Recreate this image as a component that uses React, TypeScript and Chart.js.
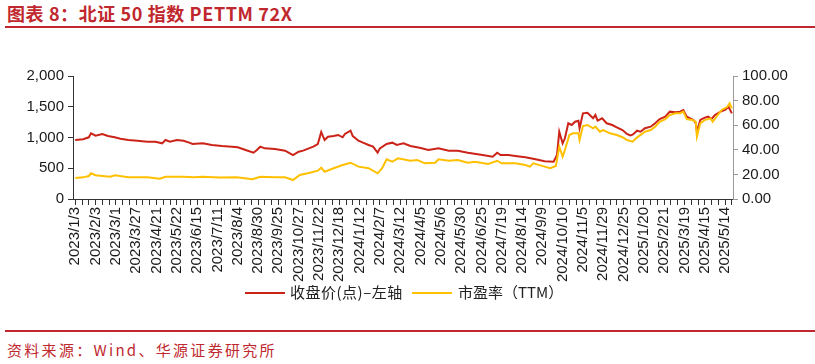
import React, { useEffect, useRef } from 'react';
import { Chart, registerables } from 'chart.js';

Chart.register(...registerables);

// X-axis date labels (one every 18 trading days)
const X_LABELS = [
  '2023/1/3', '2023/2/3', '2023/3/1', '2023/3/27', '2023/4/21', '2023/5/22', '2023/6/15',
  '2023/7/11', '2023/8/4', '2023/8/30', '2023/9/25', '2023/10/27', '2023/11/22', '2023/12/18',
  '2024/1/12', '2024/2/7', '2024/3/12', '2024/4/5', '2024/5/6', '2024/5/30', '2024/6/25',
  '2024/7/19', '2024/8/14', '2024/9/9', '2024/10/10', '2024/11/5', '2024/11/29', '2024/12/25',
  '2025/1/20', '2025/2/21', '2025/3/19', '2025/4/15', '2025/5/14',
];
const LABEL_STEP = 18;
const MINOR_STEP = 6;
const X_MIN = -2;
const X_MAX = 583;

// 收盘价 (trading-day index, value)
const CLOSE_X = [
  0, 7, 12, 14, 18, 24, 29, 35, 40, 47, 55, 64, 71, 77, 80, 84, 90, 96, 101, 104, 113, 121, 130,
  139, 144, 151, 158, 161, 164, 168, 177, 186, 193, 198, 202, 211, 215, 218, 221, 224, 229, 233,
  237, 239, 244, 246, 251, 255, 260, 264, 268, 270, 276, 281, 285, 291, 297, 303, 307, 313, 322,
  331, 339, 348, 361, 370, 374, 377, 384, 390, 399, 408, 416, 424, 427, 429, 432, 434, 437, 440,
  443, 446, 447, 450, 454, 456, 459, 461, 463, 467, 471, 476, 480, 485, 489, 492, 494, 498, 501,
  505, 510, 514, 518, 523, 527, 532, 536, 539, 542, 545, 548, 550, 551, 554, 558, 561, 564, 567,
  572, 576, 579, 582,
];
const CLOSE_Y = [
  959, 971, 1003, 1068, 1030, 1057, 1024, 1003, 981, 959, 948, 932, 932, 905, 959, 932, 959, 948,
  916, 894, 905, 878, 862, 851, 840, 797, 753, 797, 851, 824, 813, 786, 715, 769, 786, 851, 894,
  1090, 959, 1013, 1024, 1041, 1003, 1057, 1111, 1024, 948, 916, 878, 851, 753, 824, 894, 916, 878,
  905, 862, 840, 824, 797, 824, 786, 786, 753, 715, 688, 753, 715, 715, 699, 678, 645, 615, 607,
  715, 1094, 905, 987, 1231, 1203, 1257, 1273, 1150, 1393, 1403, 1366, 1312, 1366, 1273, 1312,
  1231, 1203, 1166, 1122, 1057, 1035, 1046, 1111, 1094, 1150, 1176, 1231, 1301, 1339, 1420, 1410,
  1420, 1447, 1339, 1312, 1285, 1231, 1094, 1285, 1322, 1339, 1301, 1366, 1420, 1447, 1501, 1393,
];

// 市盈率（TTM） (trading-day index, value)
const PE_X = [
  0, 7, 12, 14, 18, 24, 31, 35, 47, 64, 75, 80, 96, 105, 113, 128, 143, 157, 164, 177, 186, 193,
  199, 208, 215, 218, 221, 229, 237, 244, 251, 260, 268, 272, 276, 281, 286, 297, 303, 310, 319,
  322, 331, 339, 348, 354, 366, 374, 378, 390, 399, 403, 406, 416, 421, 426, 429, 432, 434, 438,
  441, 446, 447, 450, 454, 459, 461, 465, 468, 474, 480, 485, 489, 494, 497, 499, 505, 510, 514,
  518, 523, 527, 532, 536, 539, 542, 547, 550, 551, 554, 558, 563, 565, 569, 573, 578, 580, 582,
];
const PE_Y = [
  17.0, 17.6, 18.7, 20.9, 19.3, 18.7, 18.1, 19.3, 17.6, 17.6, 16.5, 18.1, 18.1, 17.6, 18.1, 17.4,
  17.6, 16.0, 18.1, 17.6, 17.6, 15.4, 19.5, 21.4, 23.0, 25.5, 22.2, 25.0, 27.6, 29.5, 26.3, 25.0,
  20.9, 25.0, 32.3, 30.3, 33.1, 31.1, 31.7, 29.0, 29.5, 32.3, 31.1, 31.7, 29.5, 30.3, 28.5, 31.1,
  29.0, 29.0, 27.6, 26.3, 29.0, 26.3, 25.0, 26.8, 42.5, 34.4, 39.8, 52.0, 53.4, 53.4, 48.0, 59.3,
  60.2, 57.5, 58.8, 54.7, 56.1, 53.4, 52.0, 50.2, 48.0, 46.6, 49.3, 50.7, 54.7, 56.1, 58.8, 62.8,
  65.0, 68.3, 69.7, 69.7, 71.0, 65.0, 64.2, 62.8, 50.7, 61.5, 64.2, 65.6, 62.8, 67.7, 72.4, 75.0,
  77.8, 73.7,
];

const LEFT_MIN = 0;
const LEFT_MAX = 2000;
const LEFT_STEP = 500;
const RIGHT_MIN = 0;
const RIGHT_MAX = 100;
const RIGHT_STEP = 20;

const SERIES_NAMES = ['收盘价(点)–左轴', '市盈率（TTM）'];
const TITLE = '图表 8：北证 50 指数 PETTM 72X';
const SOURCE = '资料来源：Wind、华源证券研究所';

const RED = '#CC2318';
const YELLOW = '#FFC000';
const BRAND = '#C0282E';
const TICK_FONT = { family: '"Liberation Sans", Arial, sans-serif', size: 15 };

export default function App() {
  const ref = useRef<HTMLCanvasElement>(null);

  useEffect(() => {
    const canvas = ref.current;
    if (!canvas) return;
    const minorTicks: { value: number }[] = [];
    for (let v = 0; v <= X_MAX; v += MINOR_STEP) minorTicks.push({ value: v });

    const chart = new Chart(canvas, {
      type: 'line',
      data: {
        datasets: [
          {
            label: SERIES_NAMES[0],
            data: CLOSE_X.map((x, i) => ({ x, y: CLOSE_Y[i] })),
            borderColor: RED,
            backgroundColor: RED,
            borderWidth: 2,
            pointRadius: 0,
            tension: 0,
            yAxisID: 'y',
            order: 1,
          },
          {
            label: SERIES_NAMES[1],
            data: PE_X.map((x, i) => ({ x, y: PE_Y[i] })),
            borderColor: YELLOW,
            backgroundColor: YELLOW,
            borderWidth: 2,
            pointRadius: 0,
            tension: 0,
            yAxisID: 'y1',
            order: 0,
          },
        ],
      },
      options: {
        animation: false,
        responsive: false,
        events: [],
        layout: { padding: { top: 16, left: 0, right: 0, bottom: 0 } },
        plugins: { legend: { display: false }, tooltip: { enabled: false } },
        scales: {
          x: {
            type: 'linear',
            min: X_MIN,
            max: X_MAX,
            afterBuildTicks: (axis: any) => {
              axis.ticks = minorTicks.map((t) => ({ ...t }));
            },
            afterFit: (s: any) => {
              s.height = 101;
            },
            ticks: {
              autoSkip: false,
              minRotation: 90,
              maxRotation: 90,
              padding: 2,
              color: '#1a1a1a',
              font: TICK_FONT,
              callback: (v: any) => {
                const n = Number(v);
                return n % LABEL_STEP === 0 ? X_LABELS[n / LABEL_STEP] ?? '' : '';
              },
            },
            grid: { drawOnChartArea: false, drawTicks: true, tickLength: 6, color: '#333' },
            border: { display: true, color: '#333', width: 1 },
          },
          y: {
            position: 'left',
            min: LEFT_MIN,
            max: LEFT_MAX,
            afterFit: (s: any) => {
              s.width = 73;
            },
            ticks: {
              stepSize: LEFT_STEP,
              padding: 4,
              color: '#1a1a1a',
              font: TICK_FONT,
              callback: (v: any) => Number(v).toLocaleString('en-US'),
            },
            grid: { drawOnChartArea: false, drawTicks: true, tickLength: 5, color: '#333' },
            border: { display: true, color: '#333', width: 1 },
          },
          y1: {
            position: 'right',
            min: RIGHT_MIN,
            max: RIGHT_MAX,
            afterFit: (s: any) => {
              s.width = 82;
            },
            ticks: {
              stepSize: RIGHT_STEP,
              padding: 4,
              color: '#1a1a1a',
              font: TICK_FONT,
              callback: (v: any) => Number(v).toFixed(2),
            },
            grid: { drawOnChartArea: false, drawTicks: true, tickLength: 5, color: '#999' },
            border: { display: true, color: '#999', width: 1 },
          },
        },
      },
    } as any);
    return () => chart.destroy();
  }, []);

  const cjk = '"Noto Sans CJK SC", "Noto Sans", sans-serif';

  return (
    <div
      style={{
        position: 'absolute',
        left: 0,
        top: 0,
        width: 815,
        height: 364,
        background: '#fff',
        overflow: 'hidden',
        fontFamily: cjk,
      }}
    >
      <div
        style={{
          position: 'absolute',
          left: 7,
          top: 2,
          fontSize: 18,
          fontWeight: 700,
          color: BRAND,
          whiteSpace: 'nowrap',
          lineHeight: '22px',
          letterSpacing: 0.6,
        }}
      >
        {TITLE}
      </div>
      <div style={{ position: 'absolute', left: 5, top: 26, width: 810, height: 2, background: BRAND }} />

      <canvas
        ref={ref}
        width={815}
        height={240}
        style={{ position: 'absolute', left: 0, top: 60, width: 815, height: 240 }}
      />

      {/* Legend */}
      <div style={{ position: 'absolute', left: 245, top: 292, width: 40, height: 2, background: RED }} />
      <div
        style={{
          position: 'absolute',
          left: 290,
          top: 282,
          fontSize: 15,
          lineHeight: '20px',
          color: '#222',
          whiteSpace: 'nowrap',
          letterSpacing: 0.5,
        }}
      >
        {SERIES_NAMES[0]}
      </div>
      <div style={{ position: 'absolute', left: 412, top: 292, width: 40, height: 2, background: YELLOW }} />
      <div
        style={{
          position: 'absolute',
          left: 458,
          top: 282,
          fontSize: 15,
          lineHeight: '20px',
          color: '#222',
          whiteSpace: 'nowrap',
        }}
      >
        {SERIES_NAMES[1]}
      </div>

      <div style={{ position: 'absolute', left: 5, top: 330, width: 810, height: 1.5, background: BRAND }} />
      <div
        style={{
          position: 'absolute',
          left: 7,
          top: 340,
          fontSize: 15,
          color: BRAND,
          whiteSpace: 'nowrap',
          lineHeight: '20px',
          letterSpacing: 2.3,
        }}
      >
        {SOURCE}
      </div>
    </div>
  );
}
